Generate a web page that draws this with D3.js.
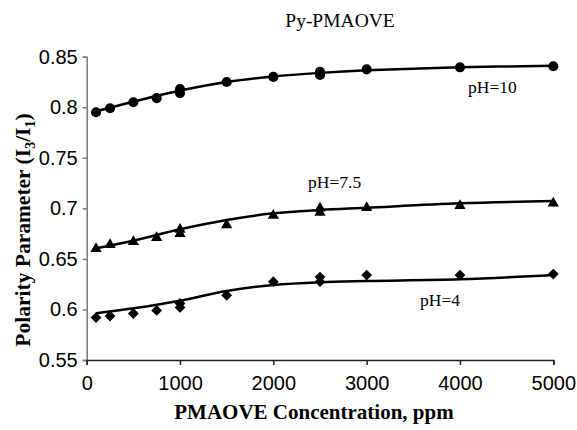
<!DOCTYPE html>
<html>
<head>
<meta charset="utf-8">
<script src="https://cdn.jsdelivr.net/npm/d3@7"></script>
<style>
  html, body { margin: 0; padding: 0; background: #fff; }
  svg { display: block; }
</style>
</head>
<body>
<svg id="chart" width="577" height="430"></svg>
<script>
// ---- data ----
const concentrations = [100, 250, 500, 750, 1000, 1000, 1500, 2000, 2500, 2500, 3000, 4000, 5000];
const pH10 = [0.795, 0.799, 0.805, 0.809, 0.814, 0.818, 0.825, 0.830, 0.832, 0.835, 0.8375, 0.8395, 0.8405];
const pH75 = [0.660, 0.664, 0.667, 0.671, 0.675, 0.679, 0.6835, 0.693, 0.696, 0.700, 0.7005, 0.7025, 0.705];
const pH4  = [0.592, 0.5935, 0.596, 0.599, 0.602, 0.606, 0.614, 0.6275, 0.6275, 0.632, 0.634, 0.634, 0.635];

const trendX   = [100, 500, 1000, 1500, 2000, 2500, 3000, 4000, 5000];
const trend10  = [0.796, 0.8055, 0.8165, 0.825, 0.8305, 0.834, 0.8365, 0.8395, 0.841];
const trend75  = [0.6605, 0.668, 0.6793, 0.6885, 0.6951, 0.6984, 0.7006, 0.705, 0.7073];
const trend4   = [0.5962, 0.6011, 0.6087, 0.6183, 0.6242, 0.627, 0.6282, 0.6298, 0.634];

const xTicks = [0, 1000, 2000, 3000, 4000, 5000];
const yTicks = [0.55, 0.6, 0.65, 0.7, 0.75, 0.8, 0.85];
const seriesLabels = ["pH=10", "pH=7.5", "pH=4"];
const chartTitle = "Py-PMAOVE";
const xTitle = "PMAOVE Concentration, ppm";

// ---- layout ----
const svg = d3.select("#chart");
const x = d3.scaleLinear().domain([0, 5000]).range([86.7, 553.3]);
const y = d3.scaleLinear().domain([0.55, 0.85]).range([360, 56.7]);

const sans = "'Liberation Sans', Arial, sans-serif";
const serif = "'Liberation Serif', 'Times New Roman', serif";

// axes
const yAxis = svg.append("g").attr("transform", `translate(${x(0)},0)`)
  .call(d3.axisLeft(y).tickValues(yTicks).tickFormat(d3.format("")).tickSize(4).tickPadding(5));
yAxis.selectAll("path,line").attr("stroke", "#777").attr("stroke-width", 1.5);
yAxis.selectAll("text").attr("font-family", sans).attr("font-size", 20).attr("fill", "#000");

const xAxis = svg.append("g").attr("transform", `translate(0,${y(0.55)})`)
  .call(d3.axisBottom(x).tickValues(xTicks).tickFormat(d3.format("")).tickSize(5).tickPadding(11).tickSizeOuter(5));
xAxis.selectAll("path,line").attr("stroke", "#222").attr("stroke-width", 1.5);
xAxis.selectAll("text").attr("font-family", sans).attr("font-size", 20).attr("fill", "#000");

// trend lines
const line = d3.line().x(d => x(d[0])).y(d => y(d[1])).curve(d3.curveCatmullRom);
[trend10, trend75, trend4].forEach(t => {
  svg.append("path")
    .datum(trendX.map((c, i) => [c, t[i]]))
    .attr("d", line)
    .attr("fill", "none")
    .attr("stroke", "#000")
    .attr("stroke-width", 2.5);
});

// markers
const symbols = [
  { data: pH10, type: d3.symbolCircle, size: 80, rot: 0 },
  { data: pH75, type: d3.symbolTriangle, size: 55, rot: 0 },
  { data: pH4, type: d3.symbolSquare, size: 58, rot: 45 }
];
symbols.forEach(s => {
  svg.append("g").selectAll("path")
    .data(concentrations.map((c, i) => [c, s.data[i]]))
    .join("path")
    .attr("d", d3.symbol().type(s.type).size(s.size))
    .attr("transform", d => `translate(${x(d[0])},${y(d[1])}) rotate(${s.rot})`)
    .attr("fill", "#000");
});

// labels
const labelPos = [[468, 93], [308, 188], [420, 306]];
seriesLabels.forEach((t, i) => {
  svg.append("text").attr("x", labelPos[i][0]).attr("y", labelPos[i][1])
    .attr("font-family", serif).attr("font-size", 17.5).text(t);
});

svg.append("text").attr("x", 340).attr("y", 27).attr("text-anchor", "middle")
  .attr("font-family", serif).attr("font-size", 19.5).text(chartTitle);

svg.append("text").attr("x", 314).attr("y", 419).attr("text-anchor", "middle")
  .attr("font-family", serif).attr("font-size", 21).attr("font-weight", "bold").text(xTitle);

const yt = svg.append("text").attr("transform", "translate(30,230) rotate(-90)")
  .attr("text-anchor", "middle").attr("font-family", serif).attr("font-size", 21.5).attr("font-weight", "bold");
yt.append("tspan").text("Polarity Parameter (I");
yt.append("tspan").attr("font-size", 14).attr("dy", 5).text("3");
yt.append("tspan").attr("dy", -5).text("/I");
yt.append("tspan").attr("font-size", 14).attr("dy", 5).text("1");
yt.append("tspan").attr("dy", -5).text(")");
</script>
</body>
</html>
